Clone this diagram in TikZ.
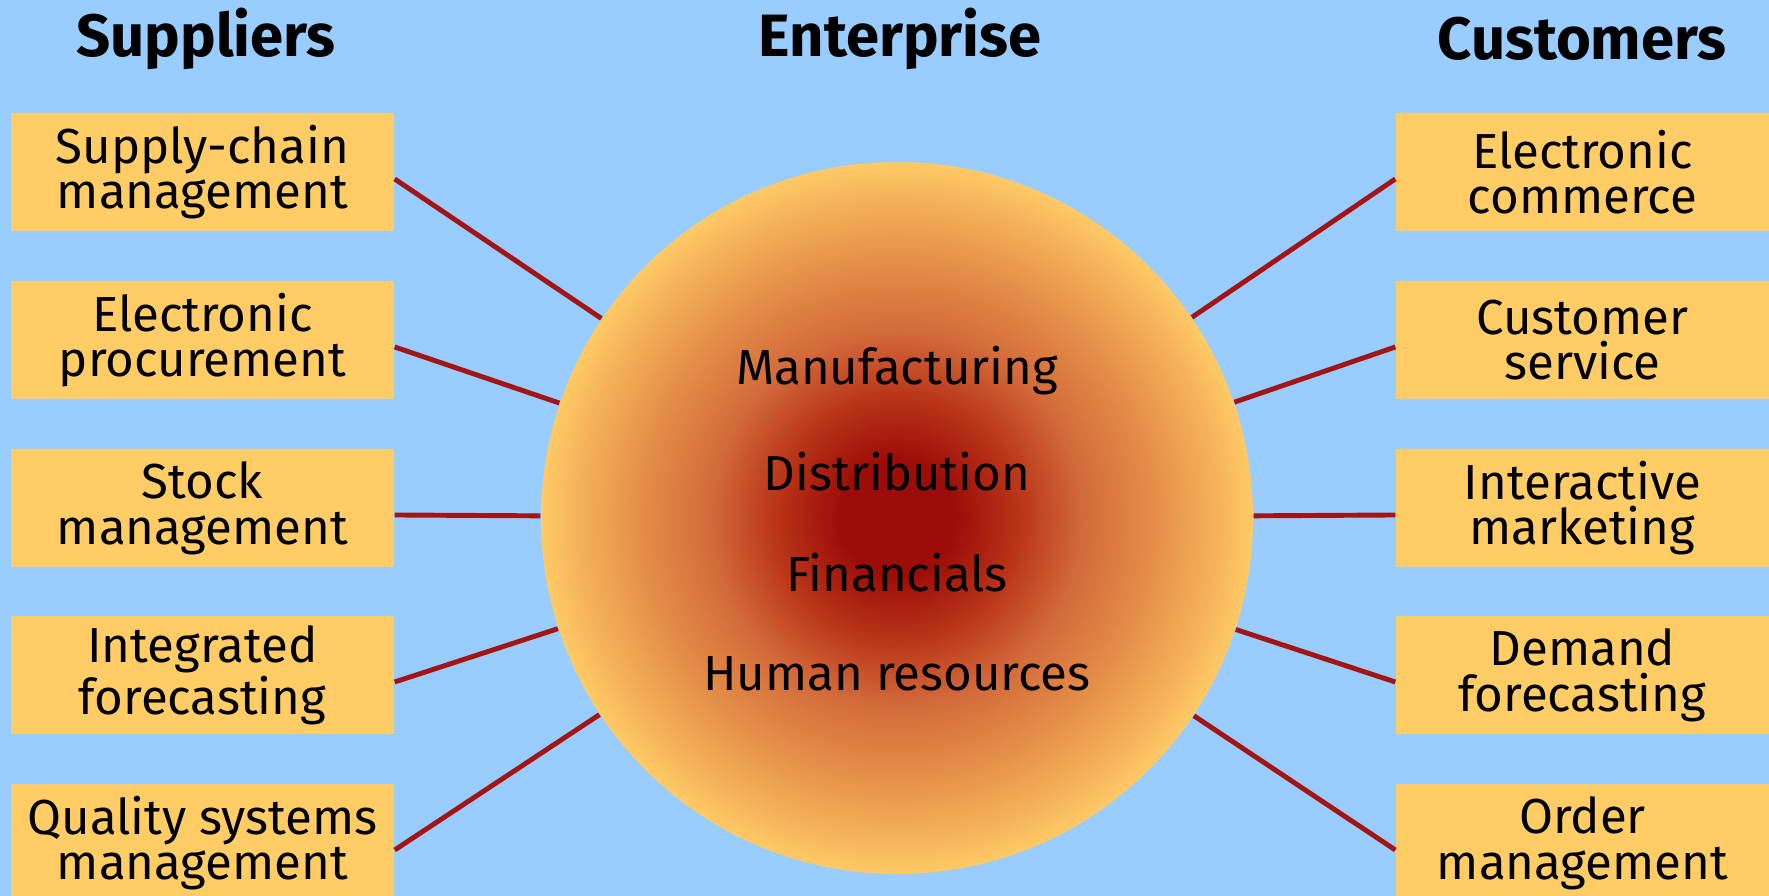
\documentclass[tikz,border=0pt]{standalone}
\usepackage{fontspec}
\setmainfont{Fira Sans}
\usepackage{tikz}
\usetikzlibrary{positioning}

\definecolor{skyblue}{HTML}{99CCFF}
\definecolor{boxgold}{HTML}{FFCC66}
\definecolor{linkred}{HTML}{A31515}
\definecolor{coreRed}{HTML}{9C0C08}
\definecolor{midRed}{HTML}{B93418}
\definecolor{rimOrange}{HTML}{D2693A}
\definecolor{lightOrange}{HTML}{E48E48}
\definecolor{edgeOrange}{HTML}{F5B25A}
\definecolor{edgeYellow}{HTML}{FFCA66}

\pgfdeclareradialshading{enterprise}{\pgfpoint{0cm}{0cm}}{color(0bp)=(coreRed); color(4bp)=(coreRed); color(8.5bp)=(midRed); color(13bp)=(rimOrange); color(18bp)=(lightOrange); color(22.5bp)=(edgeOrange); color(25bp)=(edgeYellow); color(50bp)=(edgeYellow)}

\tikzstyle{module} = [rectangle, fill=boxgold, minimum width=3.83cm, minimum height=1.18cm, inner sep=0pt, align=center, font=\fontsize{14}{13}\selectfont]
\tikzstyle{heading} = [font=\fontsize{17}{20}\selectfont\bfseries]
\tikzstyle{area} = [font=\fontsize{14}{16}\selectfont]
\tikzstyle{link} = [linkred, line width=1.4pt]

\begin{document}
\begin{tikzpicture}[]
		\clip (0,0) rectangle (17.69,8.96);
		\fill[skyblue] (0,0) rectangle (17.69,8.96);

		% headings
		\node[heading] (sup) at (2.06,8.57) {Suppliers};
		\node[heading] (ent) at (9.00,8.57) {Enterprise};
		\node[heading] (cus) at (15.82,8.57) {Customers};

		% enterprise core
		\node[circle, shading=enterprise, minimum size=7.12cm] (core) at (8.97,3.78) {};
		\node[area] (manu) at (8.97,5.25) {Manufacturing};
		\node[area] (dist) at (8.97,4.24) {Distribution};
		\node[area] (fin)  at (8.97,3.23) {Financials};
		\node[area] (hr)   at (8.97,2.22) {Human resources};

		% supplier side
		\node[module] (s1) at (2.025,7.24) {Supply-chain\\management};
		\node[module] (s2) at (2.025,5.56) {Electronic\\procurement};
		\node[module] (s3) at (2.025,3.88) {Stock\\management};
		\node[module] (s4) at (2.025,2.21) {Integrated\\forecasting};
		\node[module] (s5) at (2.025,0.53) {Quality systems\\management};

		% customer side
		\node[module, minimum width=3.73cm] (c1) at (15.825,7.24) {Electronic\\commerce};
		\node[module, minimum width=3.73cm] (c2) at (15.825,5.56) {Customer\\service};
		\node[module, minimum width=3.73cm] (c3) at (15.825,3.88) {Interactive\\marketing};
		\node[module, minimum width=3.73cm] (c4) at (15.825,2.21) {Demand\\forecasting};
		\node[module, minimum width=3.73cm] (c5) at (15.825,0.53) {Order\\management};

		\draw[link] ([yshift=-0.07cm]s1.east) -- (core);
		\draw[link] ([yshift=-0.07cm]s2.east) -- (core);
		\draw[link] ([yshift=-0.07cm]s3.east) -- (core);
		\draw[link] ([yshift=-0.07cm]s4.east) -- (core);
		\draw[link] ([yshift=-0.07cm]s5.east) -- (core);
		\draw[link] ([yshift=-0.07cm]c1.west) -- (core);
		\draw[link] ([yshift=-0.07cm]c2.west) -- (core);
		\draw[link] ([yshift=-0.07cm]c3.west) -- (core);
		\draw[link] ([yshift=-0.07cm]c4.west) -- (core);
		\draw[link] ([yshift=-0.07cm]c5.west) -- (core);
	\end{tikzpicture}
\end{document}
